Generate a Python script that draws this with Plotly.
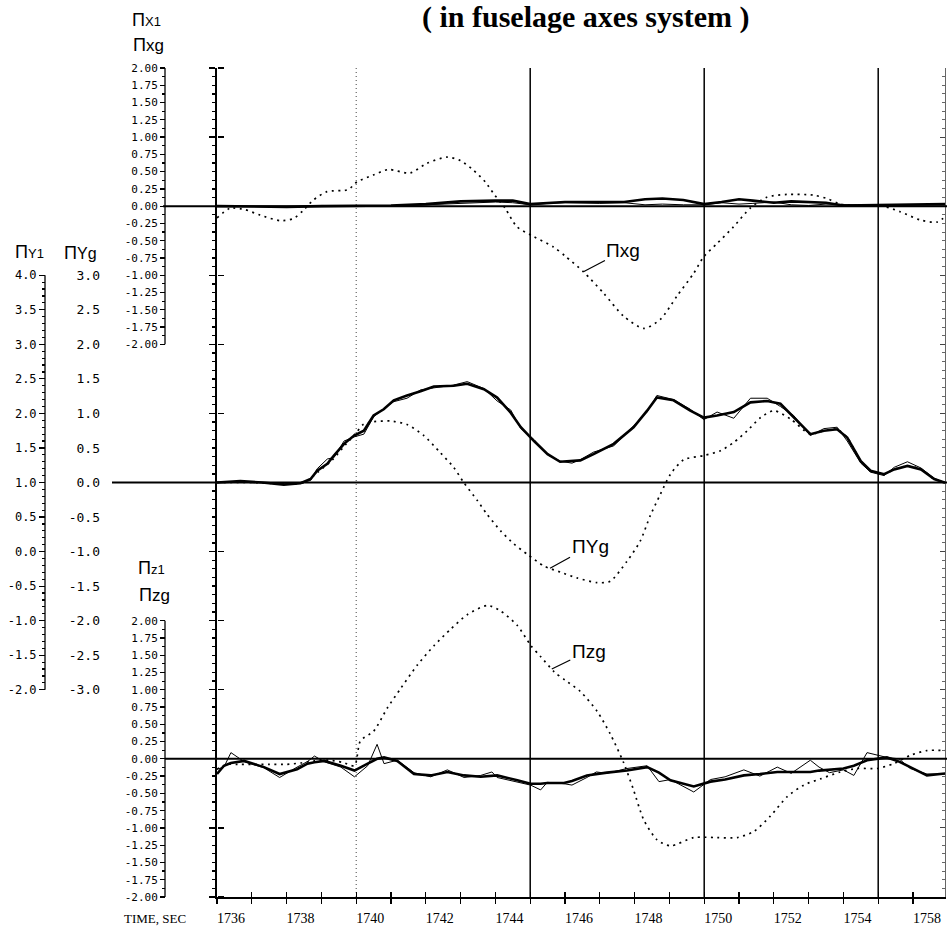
import numpy as np
import plotly.graph_objects as go

# ---------------- data ----------------
nxg_t = [1736.0, 1736.38, 1736.8, 1737.24, 1737.82, 1738.2, 1738.48, 1738.77, 1739.16, 1739.77,
         1740.02, 1740.49, 1740.92, 1741.55, 1742.03, 1742.61, 1742.99, 1743.37, 1743.71, 1743.95,
         1744.28, 1744.62, 1745.1, 1745.67, 1746.0, 1746.53, 1747.11, 1747.68, 1748.26, 1748.74,
         1749.22, 1749.7, 1749.99, 1750.37, 1750.84, 1751.32, 1751.8, 1752.38, 1753.14, 1753.53,
         1753.91, 1754.5, 1755.06, 1755.63, 1756.21, 1756.69, 1756.98]
nxg_v = [-0.17, -0.03, -0.05, -0.13, -0.21, -0.18, -0.06, 0.09, 0.21, 0.24,
         0.35, 0.45, 0.53, 0.48, 0.62, 0.71, 0.66, 0.52, 0.35, 0.18,
         -0.03, -0.30, -0.44, -0.59, -0.72, -0.95, -1.26, -1.59, -1.77, -1.64,
         -1.30, -0.97, -0.73, -0.54, -0.30, -0.03, 0.13, 0.17, 0.16, 0.11,
         0.03, 0.01, 0.01, -0.08, -0.20, -0.23, -0.13]

nx1_t = [1736.0, 1737.0, 1738.0, 1739.0, 1740.0, 1741.0, 1742.0, 1743.0, 1744.0, 1744.5,
         1745.0, 1745.5, 1746.0, 1747.0, 1747.7, 1748.3, 1748.8, 1749.4, 1750.0, 1750.5,
         1751.0, 1751.4, 1752.0, 1752.5, 1753.0, 1753.5, 1754.0, 1755.0, 1756.0, 1757.0]
nx1_thick = [0.0, -0.01, -0.01, 0.0, 0.0, 0.01, 0.03, 0.07, 0.08, 0.08,
             0.03, 0.05, 0.06, 0.06, 0.06, 0.10, 0.11, 0.09, 0.03, 0.06,
             0.10, 0.08, 0.05, 0.07, 0.06, 0.05, 0.01, 0.02, 0.03, 0.03]
nx1_thin = [0.0, 0.0, -0.01, 0.01, 0.0, 0.0, 0.02, 0.04, 0.06, 0.05,
            0.02, 0.04, 0.05, 0.04, 0.05, 0.02, 0.03, 0.02, 0.02, 0.05,
            0.03, 0.04, 0.06, 0.02, 0.01, 0.03, 0.02, 0.01, 0.02, 0.02]

ny1_t = [1736.0, 1736.67, 1737.3, 1737.92, 1738.4, 1738.69, 1738.88, 1739.17, 1739.36, 1739.65,
         1739.94, 1740.22, 1740.5, 1740.79, 1741.08, 1741.46, 1741.85, 1742.23, 1742.8, 1743.19,
         1743.67, 1744.05, 1744.44, 1744.73, 1745.11, 1745.5, 1745.86, 1746.2, 1746.44, 1746.82,
         1747.4, 1747.97, 1748.36, 1748.64, 1749.12, 1749.6, 1749.99, 1750.37, 1750.85, 1751.33,
         1751.81, 1752.19, 1752.57, 1753.05, 1753.44, 1753.82, 1754.11, 1754.5, 1754.78, 1755.17,
         1755.46, 1755.84, 1756.23, 1756.61, 1756.9, 1757.0]
ny1_thick = [1.0, 1.02, 1.0, 0.97, 0.99, 1.05, 1.17, 1.27, 1.39, 1.56,
             1.68, 1.75, 1.97, 2.06, 2.19, 2.26, 2.32, 2.39, 2.40, 2.43,
             2.35, 2.23, 2.01, 1.80, 1.60, 1.41, 1.30, 1.31, 1.32, 1.41,
             1.56, 1.80, 2.04, 2.23, 2.19, 2.04, 1.94, 1.97, 2.02, 2.16,
             2.18, 2.14, 1.94, 1.70, 1.75, 1.77, 1.65, 1.31, 1.17, 1.12,
             1.19, 1.24, 1.19, 1.05, 1.0, 1.0]
ny1_thin = [1.0, 1.0, 1.0, 0.98, 1.0, 1.03, 1.20, 1.34, 1.36, 1.60,
            1.66, 1.70, 1.95, 2.07, 2.17, 2.22, 2.34, 2.37, 2.41, 2.46,
            2.36, 2.18, 2.05, 1.78, 1.62, 1.40, 1.31, 1.28, 1.33, 1.44,
            1.53, 1.82, 2.02, 2.26, 2.20, 2.06, 1.91, 2.02, 1.93, 2.22,
            2.22, 2.10, 1.97, 1.68, 1.78, 1.80, 1.60, 1.28, 1.15, 1.10,
            1.22, 1.30, 1.21, 1.06, 1.0, 1.0]

nyg_t = [1736.0, 1737.0, 1738.0, 1738.5, 1738.9, 1739.3, 1739.7, 1740.0, 1740.2, 1740.5,
         1740.98, 1741.46, 1741.94, 1742.42, 1742.8, 1743.09, 1743.48, 1743.76, 1744.15, 1744.53,
         1744.92, 1745.4, 1745.88, 1746.34, 1746.92, 1747.3, 1747.78, 1748.16, 1748.45, 1748.74,
         1749.03, 1749.41, 1749.99, 1750.47, 1750.85, 1751.24, 1751.62, 1752.0, 1752.48, 1753.05,
         1753.44, 1753.82, 1754.11, 1754.5, 1754.78, 1755.17, 1755.46, 1755.84, 1756.23, 1756.61,
         1756.9]
nyg_v = [0.0, 0.0, -0.02, 0.0, 0.15, 0.32, 0.55, 0.72, 0.84, 0.88,
         0.89, 0.84, 0.68, 0.43, 0.22, 0.0, -0.26, -0.46, -0.70, -0.89,
         -1.04, -1.21, -1.30, -1.38, -1.45, -1.43, -1.14, -0.85, -0.48, -0.17,
         0.12, 0.33, 0.39, 0.46, 0.58, 0.75, 0.94, 1.04, 0.92, 0.70,
         0.75, 0.77, 0.65, 0.31, 0.17, 0.12, 0.19, 0.24, 0.19, 0.05,
         0.0]

nzg_t = [1736.0, 1736.3, 1736.6, 1737.0, 1737.5, 1738.0, 1738.4, 1738.8, 1739.2, 1739.6,
         1739.95, 1740.12, 1740.5, 1740.9, 1741.28, 1741.76, 1742.24, 1742.72, 1743.2, 1743.77,
         1744.15, 1744.63, 1745.02, 1745.3, 1745.69, 1746.0, 1746.44, 1746.92, 1747.3, 1747.68,
         1747.97, 1748.26, 1748.64, 1749.03, 1749.7, 1750.37, 1750.95, 1751.43, 1751.9, 1752.38,
         1752.86, 1753.34, 1753.91, 1754.39, 1754.97, 1755.44, 1755.92, 1756.4, 1756.97]
nzg_v = [-0.15, -0.08, -0.08, -0.08, -0.08, -0.08, -0.06, -0.03, -0.02, -0.05,
         -0.10, 0.26, 0.40, 0.74, 1.02, 1.36, 1.64, 1.88, 2.09, 2.22,
         2.14, 1.93, 1.64, 1.48, 1.26, 1.14, 0.975, 0.69, 0.36, -0.05,
         -0.45, -0.88, -1.17, -1.26, -1.14, -1.14, -1.14, -1.05, -0.83, -0.55,
         -0.38, -0.29, -0.19, -0.14, -0.14, -0.07, 0.05, 0.12, 0.12]

nz1_t = [1736.0, 1736.2, 1736.4, 1736.78, 1737.35, 1737.8, 1738.3, 1738.6, 1738.8, 1739.08,
         1739.56, 1739.95, 1740.33, 1740.6, 1740.8, 1741.18, 1741.66, 1742.14, 1742.62, 1743.1,
         1743.58, 1743.9, 1744.05, 1744.63, 1745.01, 1745.3, 1745.49, 1745.97, 1746.2, 1746.63,
         1746.9, 1747.2, 1747.78, 1748.36, 1748.7, 1749.03, 1749.7, 1750.18, 1750.6, 1751.14,
         1751.6, 1752.1, 1752.5, 1753.05, 1753.3, 1753.6, 1754.0, 1754.3, 1754.68, 1755.25,
         1755.6, 1755.92, 1756.4, 1756.97]
nz1_thick = [-0.22, -0.10, -0.06, -0.03, -0.12, -0.22, -0.15, -0.07, -0.05, -0.03,
             -0.10, -0.17, -0.07, 0.0, 0.02, -0.03, -0.22, -0.24, -0.19, -0.24,
             -0.26, -0.25, -0.24, -0.31, -0.36, -0.36, -0.35, -0.35, -0.32, -0.24,
             -0.22, -0.20, -0.17, -0.12, -0.20, -0.31, -0.40, -0.33, -0.30, -0.24,
             -0.22, -0.19, -0.19, -0.19, -0.17, -0.16, -0.14, -0.10, -0.02, 0.02,
             -0.04, -0.12, -0.24, -0.21]
nz1_thin = [-0.15, -0.12, 0.09, -0.04, -0.13, -0.27, -0.12, -0.04, 0.04, -0.04,
            -0.12, -0.26, -0.10, 0.21, -0.07, -0.02, -0.20, -0.26, -0.16, -0.27,
            -0.24, -0.19, -0.27, -0.33, -0.38, -0.45, -0.34, -0.36, -0.38, -0.27,
            -0.19, -0.21, -0.14, -0.10, -0.33, -0.30, -0.48, -0.30, -0.26, -0.16,
            -0.25, -0.12, -0.21, -0.02, -0.12, -0.20, -0.16, -0.24, 0.09, 0.02,
            0.0, -0.14, -0.22, -0.22]

marker_times = [1740, 1745, 1750, 1755]

time_ticks = [1736, 1738, 1740, 1742, 1744, 1746, 1748, 1750, 1752, 1754, 1756]
time_labels = ["1736", "1738", "1740", "1742", "1744", "1746", "1748", "1750", "1752", "1754", "1758"]
time_minor = [1737, 1739, 1741, 1743, 1745, 1747, 1749, 1751, 1753, 1755]
n_ticks = [2.0, 1.75, 1.5, 1.25, 1.0, 0.75, 0.5, 0.25, 0.0, -0.25, -0.5, -0.75, -1.0,
           -1.25, -1.5, -1.75, -2.0]
n_labels = ["2.00", "1.75", "1.50", "1.25", "1.00", "0.75", "0.50", "0.25", "0.00", "-0.25",
            "-0.50", "-0.75", "-1.00", "-1.25", "-1.50", "-1.75", "-2.00"]
n_minor = [1.875, 1.625, 1.375, 1.125, 0.875, 0.625, 0.375, 0.125,
           -0.125, -0.375, -0.625, -0.875, -1.125, -1.375, -1.625, -1.875]
ny1_ticks = [4.0, 3.5, 3.0, 2.5, 2.0, 1.5, 1.0, 0.5, 0.0, -0.5, -1.0, -1.5, -2.0]
ny1_labels = ["4.0", "3.5", "3.0", "2.5", "2.0", "1.5", "1.0", "0.5", "0.0", "-0.5", "-1.0", "-1.5", "-2.0"]
ny1_minor = [round(-2.0 + 0.1 * i, 2) for i in range(61) if i % 5 != 0]
nyg_ticks = [3.0, 2.5, 2.0, 1.5, 1.0, 0.5, 0.0, -0.5, -1.0, -1.5, -2.0, -2.5, -3.0]
nyg_labels = ["3.0", "2.5", "2.0", "1.5", "1.0", "0.5", "0.0", "-0.5", "-1.0", "-1.5", "-2.0", "-2.5", "-3.0"]

# ---------------- geometry ----------------
W, H = 947, 926
TOP, BOT = 68, 897
XL, XR = 217, 945
PX_PER_S = 34.8
T0 = 1736.0
T1 = T0 + (XR - XL) / PX_PER_S


def fx(px):
    return px / W


def fy(py):
    return (BOT - py) / (BOT - TOP)


BLACK = "black"
MONO = "DejaVu Sans Mono"
SANS = "Liberation Sans"
SERIF = "Liberation Serif"

dotted = dict(color=BLACK, width=1.7, dash="2px,4.5px", shape="spline", smoothing=0.7)
thick = dict(color=BLACK, width=2.6)
thin = dict(color=BLACK, width=1.0)

fig = go.Figure()


def add(x, y, line, yaxis):
    fig.add_trace(go.Scatter(x=x, y=y, mode="lines", line=line, yaxis=yaxis,
                             hoverinfo="skip", showlegend=False))


add(nxg_t, nxg_v, dotted, "y")
add(nx1_t, nx1_thin, thin, "y")
add(nx1_t, nx1_thick, thick, "y")
add(nyg_t, nyg_v, dotted, "y3")
add(ny1_t, ny1_thin, thin, "y2")
add(ny1_t, ny1_thick, thick, "y2")
add(nzg_t, nzg_v, dotted, "y4")
add(nz1_t, nz1_thin, thin, "y4")
add(nz1_t, nz1_thick, thick, "y4")

shapes = []
for t in marker_times:
    if t == 1740:
        ln = dict(color="#444", width=1, dash="1px,3px")
    else:
        ln = dict(color=BLACK, width=1.5)
    shapes.append(dict(type="line", xref="x", yref="paper", x0=t, x1=t, y0=0, y1=1, line=ln, layer="below"))
shapes.append(dict(type="line", xref="paper", yref="y", x0=fx(163), x1=1, y0=0, y1=0, line=dict(color=BLACK, width=2)))
shapes.append(dict(type="line", xref="paper", yref="y3", x0=fx(112), x1=1, y0=0, y1=0, line=dict(color=BLACK, width=2)))
shapes.append(dict(type="line", xref="paper", yref="y4", x0=fx(165), x1=1, y0=0, y1=0, line=dict(color=BLACK, width=2)))
shapes.append(dict(type="line", xref="paper", yref="y", x0=fx(165), x1=fx(165), y0=-2, y1=2, line=dict(color=BLACK, width=1.3)))
shapes.append(dict(type="line", xref="paper", yref="y2", x0=fx(45), x1=fx(45), y0=-2, y1=4, line=dict(color=BLACK, width=1.3)))
shapes.append(dict(type="line", xref="paper", yref="y4", x0=fx(165), x1=fx(165), y0=-2, y1=2, line=dict(color=BLACK, width=1.3)))


def ann_text(main, suffix, small=13):
    return f"{main}<span style='font-size:{small}px'>{suffix}</span>"


def head(text, px, py):
    return dict(text=text, x=fx(px), y=fy(py), xref="paper", yref="paper", showarrow=False,
                xanchor="center", yanchor="middle", font=dict(family=SANS, size=18, color=BLACK))


annotations = [
    dict(text="<b>( in fuselage axes system )</b>", x=fx(585), y=fy(17), xref="paper", yref="paper",
         showarrow=False, font=dict(family=SERIF, size=30, color=BLACK), xanchor="center", yanchor="middle"),
    head(ann_text("Π", "X1"), 146, 20),
    head(ann_text("Π", "xg", small=17), 148, 45),
    head(ann_text("Π", "Y1"), 30, 252),
    head(ann_text("Π", "Yg", small=16), 80, 253),
    head(ann_text("Π", "z1"), 151, 568),
    head(ann_text("Π", "zg", small=17), 154, 595),
    dict(text="TIME, SEC", x=fx(155), y=fy(919), xref="paper", yref="paper", showarrow=False,
         xanchor="center", yanchor="middle", font=dict(family=SERIF, size=13, color=BLACK)),
]


def curve_label(text, t, ts, vs, yref, ax, ay):
    v = float(np.interp(t, ts, vs))
    return dict(text=text, x=t, y=v, xref="x", yref=yref, showarrow=True, arrowhead=0,
                arrowwidth=1.2, arrowcolor=BLACK, ax=ax, ay=ay, standoff=0,
                font=dict(family=SANS, size=19, color=BLACK))


annotations.append(curve_label("Πxg", 1746.53, nxg_t, nxg_v, "y", 40, -21))
annotations.append(curve_label("ΠYg", 1745.57, nyg_t, nyg_v, "y3", 40, -22))
annotations.append(curve_label("Πzg", 1745.62, nzg_t, nzg_v, "y4", 37, -18))

tickfont_small = dict(family=MONO, size=11, color=BLACK)
common = dict(showgrid=False, zeroline=False, automargin=False, fixedrange=True)

fig.update_layout(
    width=W, height=H,
    margin=dict(l=0, r=0, t=TOP, b=H - BOT, pad=0, autoexpand=False),
    paper_bgcolor="white", plot_bgcolor="white",
    showlegend=False,
    shapes=shapes,
    annotations=annotations,
    xaxis=dict(domain=[fx(XL), fx(XR)], range=[T0, T1], **common,
               showline=True, linecolor=BLACK, linewidth=1.6,
               tickmode="array", tickvals=time_ticks, ticktext=time_labels,
               ticks="outside", ticklen=5, tickwidth=1.3, tickcolor=BLACK,
               minor=dict(tickmode="array", tickvals=time_minor,
                          ticks="outside", ticklen=5, tickwidth=1.3, tickcolor=BLACK),
               tickfont=dict(family=SERIF, size=14, color=BLACK),
               ticklabelshift=14, ticklabelstandoff=3),
    xaxis2=dict(overlaying="x", range=[T0, T1], domain=[fx(XL), fx(XR)], anchor="y", side="bottom",
                **common, showline=False, showticklabels=False,
                tickmode="linear", tick0=1736, dtick=1, ticks="inside", ticklen=5, tickwidth=1.3,
                tickcolor=BLACK),
    yaxis=dict(domain=[0, 1], range=[-10, 2], anchor="free", position=fx(165), side="left",
               **common, showline=False,
               tickmode="array", tickvals=n_ticks, ticktext=n_labels, ticks="outside", ticklen=5,
               tickwidth=1.2, tickcolor=BLACK, tickfont=tickfont_small,
               minor=dict(tickmode="array", tickvals=n_minor, ticks="outside", ticklen=3, tickcolor=BLACK)),
    yaxis2=dict(overlaying="y", range=[-5, 7], anchor="free", position=fx(45), side="left",
                **common, showline=False,
                tickmode="array", tickvals=ny1_ticks, ticktext=ny1_labels, ticks="outside", ticklen=6,
                tickwidth=1.2, tickcolor=BLACK, tickfont=dict(family=MONO, size=12, color=BLACK),
                minor=dict(tickmode="array", tickvals=ny1_minor, ticks="outside", ticklen=3, tickcolor=BLACK)),
    yaxis3=dict(overlaying="y", range=[-6, 6], anchor="free", position=fx(100), side="left",
                **common, showline=False,
                tickmode="array", tickvals=nyg_ticks, ticktext=nyg_labels, ticks="",
                tickfont=dict(family=MONO, size=13, color=BLACK)),
    yaxis4=dict(overlaying="y", range=[-2, 10], anchor="free", position=fx(165), side="left",
                **common, showline=False,
                tickmode="array", tickvals=n_ticks, ticktext=n_labels, ticks="outside", ticklen=5,
                tickwidth=1.2, tickcolor=BLACK, tickfont=tickfont_small,
                minor=dict(tickmode="array", tickvals=n_minor, ticks="outside", ticklen=3, tickcolor=BLACK)),
    yaxis5=dict(overlaying="y", range=[-6, 6], anchor="x", side="left", **common,
                showline=True, linecolor=BLACK, linewidth=1.6, showticklabels=False,
                tickmode="linear", tick0=0, dtick=1, ticks="outside", ticklen=6, tickwidth=1.3, tickcolor=BLACK,
                minor=dict(dtick=0.125, tick0=0, ticks="outside", ticklen=3, tickcolor=BLACK)),
    yaxis6=dict(overlaying="y", range=[-6, 6], anchor="free", position=fx(XL), side="right", **common,
                showline=False, showticklabels=False,
                tickmode="linear", tick0=0, dtick=1, ticks="outside", ticklen=6, tickwidth=1.3, tickcolor=BLACK),
    yaxis7=dict(overlaying="y", range=[-6, 6], anchor="x", side="right", **common,
                showline=True, linecolor="#666", linewidth=1, showticklabels=False,
                tickmode="linear", tick0=0, dtick=1, ticks="inside", ticklen=5, tickcolor="#444",
                minor=dict(dtick=0.125, tick0=0, ticks="inside", ticklen=3, tickcolor="#666")),
)

for ax in ["y5", "y6", "y7"]:
    fig.add_trace(go.Scatter(x=[T0], y=[0], mode="markers", marker=dict(opacity=0), yaxis=ax,
                             hoverinfo="skip", showlegend=False))
fig.add_trace(go.Scatter(x=[T0], y=[0], mode="markers", marker=dict(opacity=0), xaxis="x2", yaxis="y",
                         hoverinfo="skip", showlegend=False))

fig.write_html("out.html", config={"displayModeBar": False, "staticPlot": True},
               post_script="document.body.style.margin='0';document.body.style.overflow='hidden';")
